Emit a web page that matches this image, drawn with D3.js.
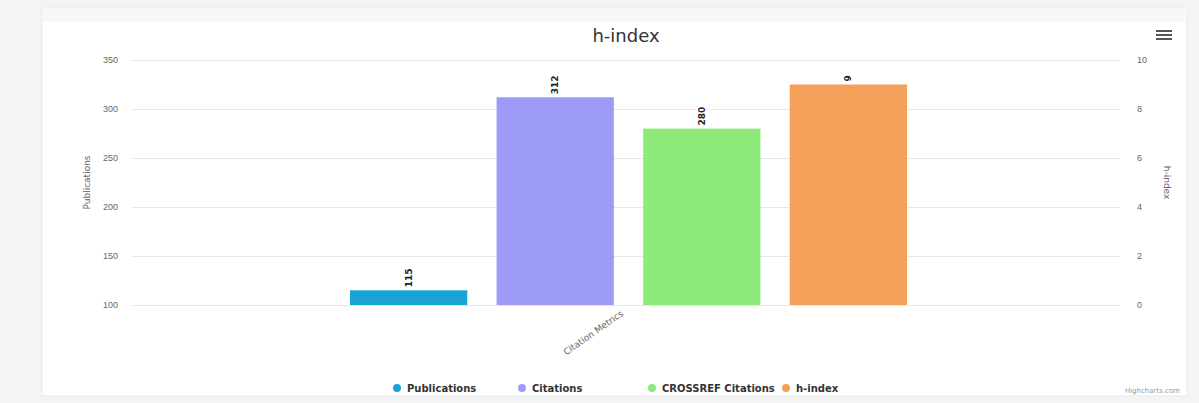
<!DOCTYPE html>
<html>
<head>
<meta charset="utf-8">
<script src="https://cdn.jsdelivr.net/npm/d3@7"></script>
<style>
  body { margin: 0; background: #f4f4f4; font-family: "DejaVu Sans", "Lucida Grande", sans-serif; }
  svg { display: block; }
  .grid line { stroke: #e6e6e6; }
  .grid .domain { display: none; }
  .axis text { fill: #666; font-size: 9px; }
  .axis .domain, .axis line { display: none; }
</style>
</head>
<body>
<div id="vis"></div>
<script>
// data
var categories = ["Citation Metrics"];
var series = ["Publications", "Citations", "CROSSREF Citations", "h-index"];
var values = [115, 312, 280, 9];
var seriesAxis = ["left", "left", "left", "right"];
var leftTicks = [100, 150, 200, 250, 300, 350];
var rightTicks = [0, 2, 4, 6, 8, 10];
var colorList = ["#17a3d6", "#9e9af8", "#8eea7a", "#f5a05a"];

var W = 1199, H = 403;
var margin = { top: 60, right: 79, bottom: 98, left: 132 };
var width = W - margin.left - margin.right,
    height = H - margin.top - margin.bottom;

var root = d3.select("#vis").append("svg")
    .attr("width", W)
    .attr("height", H);

// card
root.append("rect")
    .attr("x", 42).attr("y", 8)
    .attr("width", 1145).attr("height", 388)
    .attr("fill", "#fff")
    .attr("stroke", "#e8e8e8");
root.append("rect")
    .attr("x", 43).attr("y", 9)
    .attr("width", 1143).attr("height", 13)
    .attr("fill", "#f8f8f8");

root.append("text")
    .attr("x", 626).attr("y", 42)
    .attr("text-anchor", "middle")
    .style("font-size", "18px")
    .style("fill", "#333")
    .text("h-index");

// menu icon
root.selectAll(".menu")
    .data([0, 1, 2])
    .enter().append("line")
    .attr("x1", 1156).attr("x2", 1172)
    .attr("y1", d => 31 + d * 4).attr("y2", d => 31 + d * 4)
    .attr("stroke", "#555")
    .attr("stroke-width", 2);

var svg = root.append("g")
    .attr("transform", "translate(" + margin.left + "," + margin.top + ")");

var colors = d3.scaleOrdinal().domain(series).range(colorList);

var x0 = d3.scaleBand().domain(categories).range([0, width]).paddingInner(0).paddingOuter(0);
var x1 = d3.scaleBand().domain(series).range([218, 775]).paddingInner(0.2).paddingOuter(0);
var yL = d3.scaleLinear().domain([100, 350]).range([height, 0]);
var yR = d3.scaleLinear().domain([0, 10]).range([height, 0]);

// grid
svg.append("g")
    .attr("class", "grid")
    .call(d3.axisLeft(yL).tickValues(leftTicks).tickSize(-width).tickFormat(""));

// axes
svg.append("g")
    .attr("class", "axis")
    .attr("transform", "translate(-5,0)")
    .call(d3.axisLeft(yL).tickValues(leftTicks).tickFormat(d3.format("d")));

svg.append("g")
    .attr("class", "axis")
    .attr("transform", "translate(" + (width + 8) + ",0)")
    .call(d3.axisRight(yR).tickValues(rightTicks).tickFormat(d3.format("d")));

svg.append("text")
    .attr("transform", "translate(-42," + (height / 2) + ") rotate(-90)")
    .attr("text-anchor", "middle")
    .style("font-size", "9px")
    .style("fill", "#666")
    .text("Publications");

svg.append("text")
    .attr("transform", "translate(" + (width + 44) + "," + (height / 2) + ") rotate(90)")
    .attr("text-anchor", "middle")
    .style("font-size", "9px")
    .style("fill", "#666")
    .text("h-index");

// bars
var rows = series.map((s, i) => ({ name: s, value: values[i], axis: seriesAxis[i] }));
var yOf = d => d.axis == "right" ? yR(d.value) : yL(d.value);

svg.selectAll(".bar")
    .data(rows)
    .enter().append("rect")
    .attr("class", "bar")
    .attr("x", d => x1(d.name))
    .attr("y", yOf)
    .attr("width", x1.bandwidth())
    .attr("height", d => height - yOf(d))
    .attr("fill", d => colors(d.name));

svg.selectAll(".lbl")
    .data(rows)
    .enter().append("text")
    .attr("class", "lbl")
    .attr("transform", d => "translate(" + (x1(d.name) + x1.bandwidth() / 2 + 3) + "," + (yOf(d) - 3) + ") rotate(-90)")
    .attr("text-anchor", "start")
    .style("font-size", "9px")
    .style("font-weight", "bold")
    .style("fill", "#222")
    .style("paint-order", "stroke")
    .style("stroke", "#fff")
    .style("stroke-width", "2px")
    .text(d => d.value);

// category label
svg.append("text")
    .attr("transform", "translate(" + (x0(categories[0]) + x0.bandwidth() / 2 - 2) + "," + (height + 10) + ") rotate(-35)")
    .attr("text-anchor", "end")
    .style("font-size", "9px")
    .style("fill", "#666")
    .text(categories[0]);

// legend
var legendX = [397, 522, 652, 786];
var legend = root.selectAll(".legend")
    .data(series)
    .enter().append("g")
    .attr("class", "legend")
    .attr("transform", (d, i) => "translate(" + legendX[i] + ",388)");

legend.append("circle")
    .attr("r", 4)
    .attr("fill", d => colors(d));

legend.append("text")
    .attr("x", 10)
    .attr("dy", ".35em")
    .style("font-size", "10px")
    .style("font-weight", "bold")
    .style("fill", "#333")
    .text(d => d);

root.append("text")
    .attr("x", 1180).attr("y", 393)
    .attr("text-anchor", "end")
    .style("font-size", "7px")
    .style("fill", "#999")
    .text("Highcharts.com");
</script>
</body>
</html>
